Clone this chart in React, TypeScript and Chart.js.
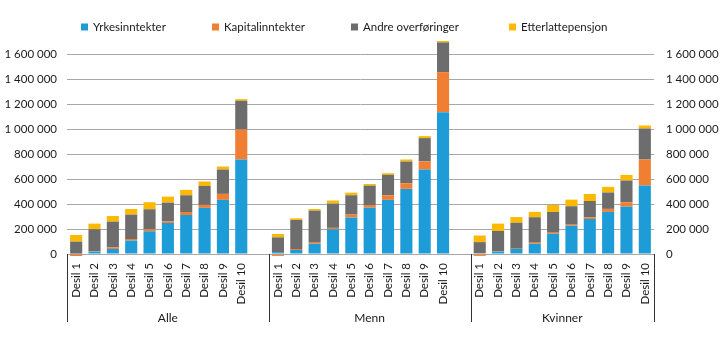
import React, { useEffect, useRef } from "react";
import { Chart, registerables } from "chart.js";

Chart.register(...registerables);

const groups = ["Alle", "Menn", "Kvinner"];
const deciles = ["Desil 1", "Desil 2", "Desil 3", "Desil 4", "Desil 5", "Desil 6", "Desil 7", "Desil 8", "Desil 9", "Desil 10"];
const seriesNames = ["Yrkesinntekter", "Kapitalinntekter", "Andre overføringer", "Etterlattepensjon"];
const seriesColors = ["#1e9cd8", "#f07f34", "#6d6d6d", "#fbb900"];
const yTicks = [0, 200000, 400000, 600000, 800000, 1000000, 1200000, 1400000, 1600000];

const alleYrke = [3000, 19000, 40000, 107000, 182000, 248000, 312000, 369000, 433000, 756000];
const alleKapital = [-16000, 3000, 13000, 13000, 16000, 13000, 24000, 24000, 48000, 240000];
const alleAndre = [96000, 176000, 206000, 195000, 160000, 150000, 134000, 152000, 195000, 230000];
const alleEtter = [53000, 45000, 45000, 45000, 56000, 48000, 43000, 35000, 24000, 13000];

const mennYrke = [15000, 32000, 83000, 198000, 291000, 371000, 433000, 521000, 676000, 1135000];
const mennKapital = [-15000, 8000, 13000, 11000, 24000, 21000, 37000, 45000, 64000, 320000];
const mennAndre = [118000, 232000, 251000, 195000, 155000, 155000, 163000, 174000, 187000, 238000];
const mennEtter = [27000, 13000, 13000, 24000, 21000, 13000, 13000, 16000, 16000, 11000];

const kvinnerYrke = [5000, 19000, 40000, 83000, 163000, 227000, 280000, 337000, 379000, 548000];
const kvinnerKapital = [-15000, 2000, 2000, 13000, 13000, 13000, 13000, 24000, 35000, 208000];
const kvinnerAndre = [90000, 163000, 208000, 198000, 160000, 142000, 131000, 131000, 174000, 248000];
const kvinnerEtter = [53000, 59000, 45000, 43000, 56000, 53000, 56000, 45000, 45000, 24000];

const groupData = [
  [alleYrke, alleKapital, alleAndre, alleEtter],
  [mennYrke, mennKapital, mennAndre, mennEtter],
  [kvinnerYrke, kvinnerKapital, kvinnerAndre, kvinnerEtter],
];

const FONT = "Lato";
const TEXT = "#1a1a1a";

function fmt(v: number) {
  return String(v).replace(/\B(?=(\d{3})+(?!\d))/g, " ");
}

// Build flat labels: each group = 10 deciles + 1 empty gap (not after last)
const labels: string[] = [];
const groupSizes: number[] = [];
groups.forEach((g, gi) => {
  deciles.forEach((d) => labels.push(d));
  let size = deciles.length;
  if (gi < groups.length - 1) {
    labels.push("");
    size += 1;
  }
  groupSizes.push(size);
});

function seriesFlat(si: number): (number | null)[] {
  const out: (number | null)[] = [];
  groupData.forEach((gd, gi) => {
    gd[si].forEach((v) => out.push(v));
    if (gi < groups.length - 1) out.push(null);
  });
  return out;
}

const legendPlugin = {
  id: "customLegend",
  afterDraw(chart: any) {
    const ctx = chart.ctx;
    const xs = [81, 212, 351, 509];
    ctx.save();
    ctx.font = `11.5px ${FONT}`;
    ctx.textBaseline = "middle";
    ctx.textAlign = "left";
    seriesNames.forEach((n, i) => {
      ctx.fillStyle = seriesColors[i];
      ctx.fillRect(xs[i], 23.5, 7, 7);
      ctx.fillStyle = TEXT;
      ctx.fillText(n, xs[i] + 12, 27);
    });
    ctx.restore();
  },
};

const groupPlugin = {
  id: "groupLabels",
  afterDraw(chart: any) {
    const ctx = chart.ctx;
    const xs = chart.scales.x;
    const slot = xs.width / labels.length;
    const top = chart.chartArea.bottom;
    ctx.save();
    ctx.strokeStyle = "#333333";
    ctx.lineWidth = 1;
    let start = 0;
    const bounds: number[] = [0];
    groupSizes.forEach((s) => {
      start += s;
      bounds.push(start);
    });
    bounds.forEach((b) => {
      const x = Math.round(xs.left + b * slot) + 0.5;
      ctx.beginPath();
      ctx.moveTo(x, top);
      ctx.lineTo(x, top + 68);
      ctx.stroke();
    });
    ctx.font = `12px ${FONT}`;
    ctx.fillStyle = TEXT;
    ctx.textAlign = "center";
    ctx.textBaseline = "middle";
    groups.forEach((g, i) => {
      const cx = xs.left + ((bounds[i] + bounds[i + 1]) / 2) * slot;
      ctx.fillText(g, cx, top + 64);
    });
    ctx.restore();
  },
};

export default function App() {
  const ref = useRef<HTMLCanvasElement>(null);
  useEffect(() => {
    if (!ref.current) return;
    const yScale = (pos: "left" | "right", grid: boolean) => ({
      type: "linear" as const,
      position: pos,
      display: true,
      stacked: true,
      min: 0,
      max: 1720000,
      border: { display: false },
      grid: { display: grid, color: "#a8a8a8", drawTicks: false, lineWidth: 1 },
      afterBuildTicks: (scale: any) => {
        scale.ticks = yTicks.map((v) => ({ value: v }));
      },
      afterFit: (scale: any) => {
        scale.width = pos === "left" ? 67 : 66;
      },
      ticks: {
        padding: pos === "left" ? 10 : 12,
        color: TEXT,
        font: { family: FONT, size: 11.5 },
        callback: (v: any) => fmt(Number(v)),
      },
    });
    const chart = new Chart(ref.current, {
      type: "bar",
      data: {
        labels,
        datasets: seriesNames.map((n, i) => ({
          label: n,
          data: seriesFlat(i),
          backgroundColor: seriesColors[i],
          borderWidth: 0,
          barPercentage: 0.66,
          categoryPercentage: 1,
          clip: false as any,
          yAxisID: "y",
        })),
      },
      options: {
        animation: false,
        responsive: false,
        devicePixelRatio: 1,
        layout: { padding: { top: 39, left: 0, right: 0, bottom: 0 } },
        plugins: { legend: { display: false }, tooltip: { enabled: false } },
        scales: {
          x: {
            stacked: true,
            grid: { display: false, drawTicks: false },
            border: { display: false },
            afterFit: (scale: any) => {
              scale.height = 87;
            },
            ticks: {
              autoSkip: false,
              minRotation: 90,
              maxRotation: 90,
              padding: 9,
              color: TEXT,
              font: { family: FONT, size: 11.5 },
            },
          },
          y: yScale("left", true),
          y2: yScale("right", false),
        },
      },
      plugins: [legendPlugin, groupPlugin],
    });
    return () => chart.destroy();
  }, []);
  return (
    <div style={{ position: "absolute", left: 0, top: 0, width: 720, height: 341, background: "#fff" }}>
      <canvas ref={ref} width={720} height={341} />
    </div>
  );
}
